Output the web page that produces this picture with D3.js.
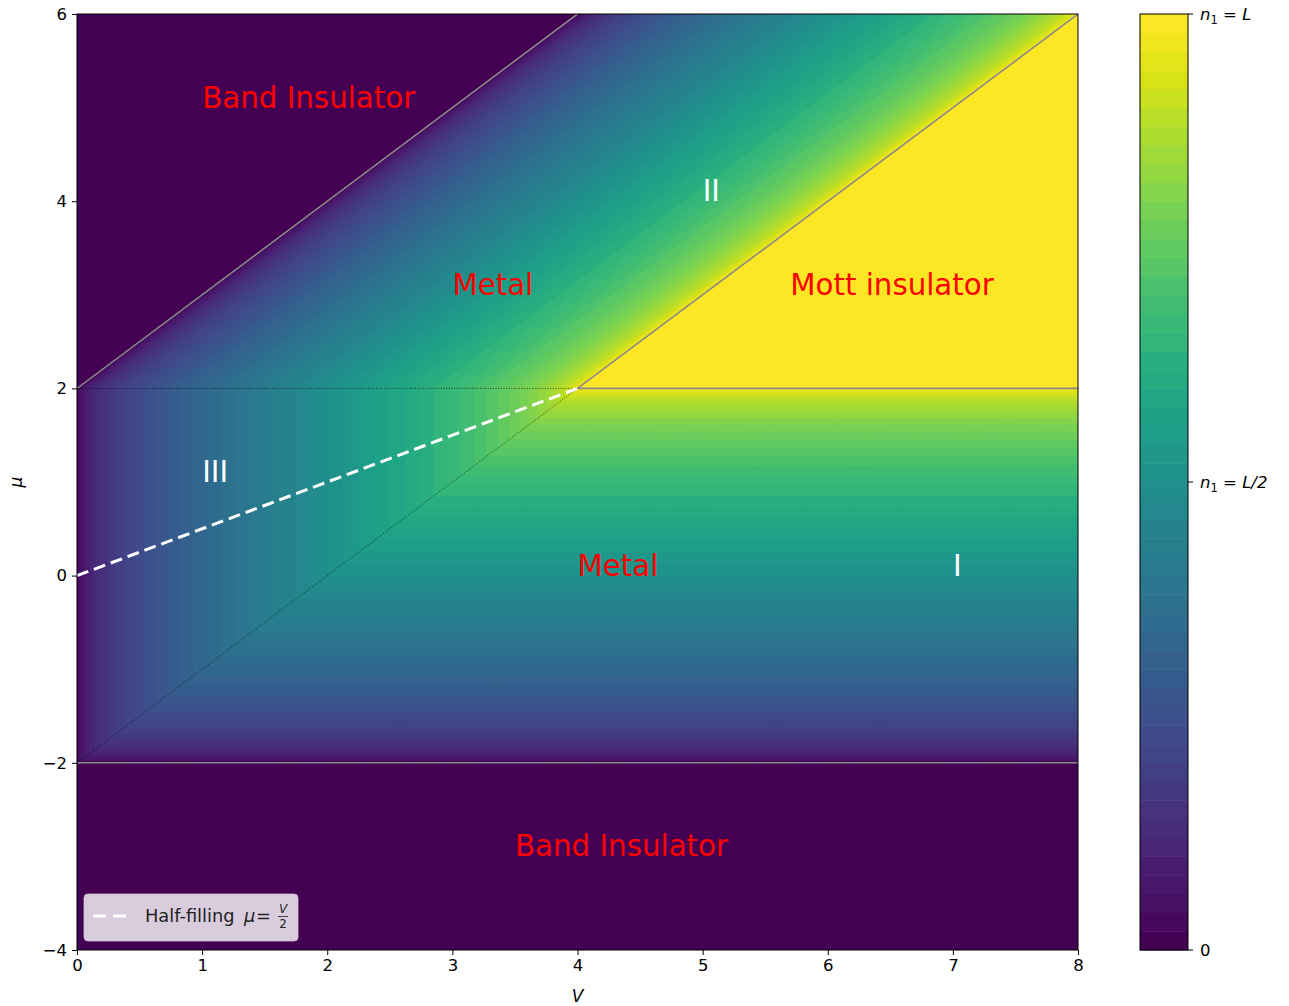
<!DOCTYPE html>
<html>
<head>
<meta charset="utf-8">
<script src="https://cdn.jsdelivr.net/npm/d3@7"></script>
<style>
  html, body { margin: 0; padding: 0; background: #ffffff; }
  svg { display: block; font-family: "DejaVu Sans", sans-serif; }
</style>
</head>
<body>
<svg id="chart" width="1289" height="1006"></svg>
<script>
// ---------- data ----------
const vDomain = [0, 8];
const muDomain = [-4, 6];
const xTicks = [0, 1, 2, 3, 4, 5, 6, 7, 8];
const yTicks = [-4, -2, 0, 2, 4, 6];
const nLevels = 50;                       // contourf levels
const cbTicks = [0, 0.5, 1];
const cbTickLabels = [["0"], ["n", "1", " = ", "L/2"], ["n", "1", " = ", "L"]];

// phase boundaries [[V0, mu0], [V1, mu1]]
const grayLines = [
  [[0, 2], [4, 6]],
  [[4, 2], [8, 6]],
  [[4, 2], [8, 2]],
  [[0, -2], [8, -2]]
];
const dottedLines = [
  [[0, 2], [4, 2]],
  [[0, -2], [4, 2]]
];
const halfFilling = [[0, 0], [4, 2]];

// region labels [text, V, mu, colour]
const regionLabels = [
  ["Band Insulator", 1, 5, "red"],
  ["Metal", 3, 3, "red"],
  ["Mott insulator", 5.7, 3, "red"],
  ["Metal", 4, 0, "red"],
  ["Band Insulator", 3.5, -3, "red"],
  ["II", 5, 4, "white"],
  ["III", 1, 1, "white"],
  ["I", 7, 0, "white"]
];

// filling of the chain n1/L as function of (V, mu) for the free-fermion band
function filling(V, mu) {
  let x;
  if (mu < -2) return 0;
  if (mu <= 2) x = Math.min(mu, V - 2);
  else x = V - mu;
  x = Math.max(-2, Math.min(2, x));
  return 1 - Math.acos(x / 2) / Math.PI;
}

// ---------- layout ----------
const svg = d3.select("#chart");
const X0 = 77, X1 = 1078, Y0 = 14, Y1 = 950;
const x = d3.scaleLinear().domain(vDomain).range([X0, X1]);
const y = d3.scaleLinear().domain(muDomain).range([Y1, Y0]);

// ---------- heatmap via d3.contours ----------
const NX = 500, NY = 468;
const gx = d3.scaleLinear().domain([0, NX]).range(vDomain);
const gy = d3.scaleLinear().domain([0, NY]).range([muDomain[1], muDomain[0]]);
const values = new Float64Array(NX * NY);
for (let j = 0; j < NY; j++) {
  const mu = gy(j + 0.5);
  for (let i = 0; i < NX; i++) {
    values[j * NX + i] = filling(gx(i + 0.5), mu);
  }
}
const thresholds = d3.range(nLevels).map(k => k / nLevels);
const color = k => d3.interpolateViridis(k / (nLevels - 1));
const contours = d3.contours().size([NX, NY]).thresholds(thresholds)(values);
const proj = d3.geoTransform({
  point: function (px, py) { this.stream.point(x(gx(px)), y(gy(py))); }
});
const path = d3.geoPath(proj);

svg.append("defs").append("clipPath").attr("id", "clip")
  .append("rect").attr("x", X0).attr("y", Y0).attr("width", X1 - X0).attr("height", Y1 - Y0);

const plot = svg.append("g").attr("clip-path", "url(#clip)");
plot.append("rect").attr("x", X0).attr("y", Y0).attr("width", X1 - X0).attr("height", Y1 - Y0)
  .attr("fill", color(0));
plot.selectAll("path.band").data(contours).join("path")
  .attr("class", "band")
  .attr("d", path)
  .attr("fill", (d, k) => color(k))
  .attr("stroke", (d, k) => color(k))
  .attr("stroke-width", 0.6);

// ---------- lines ----------
const line = d3.line().x(d => x(d[0])).y(d => y(d[1]));
plot.selectAll("path.gray").data(grayLines).join("path")
  .attr("class", "gray").attr("d", line)
  .attr("stroke", "#888888").attr("stroke-width", 1.6).attr("fill", "none");
plot.selectAll("path.dot").data(dottedLines).join("path")
  .attr("class", "dot").attr("d", line)
  .attr("stroke", "#000").attr("stroke-width", 0.7).attr("stroke-dasharray", "1,1.6").attr("fill", "none");
plot.append("path").datum(halfFilling).attr("d", line)
  .attr("stroke", "#fff").attr("stroke-width", 3).attr("stroke-dasharray", "12,6").attr("fill", "none");

// ---------- labels ----------
plot.selectAll("text.region").data(regionLabels).join("text")
  .attr("class", "region")
  .attr("x", d => x(d[1])).attr("y", d => y(d[2]))
  .attr("fill", d => d[3])
  .attr("font-size", 29.3)
  .text(d => d[0]);

// ---------- frame & axes ----------
svg.append("rect").attr("x", X0).attr("y", Y0).attr("width", X1 - X0).attr("height", Y1 - Y0)
  .attr("fill", "none").attr("stroke", "#000").attr("stroke-width", 1);

const fmt = d => (d < 0 ? "\u2212" + Math.abs(d) : String(d));
const xAxis = svg.append("g").attr("transform", `translate(0,${Y1})`)
  .call(d3.axisBottom(x).tickValues(xTicks).tickFormat(fmt).tickSize(5).tickPadding(4));
const yAxis = svg.append("g").attr("transform", `translate(${X0},0)`)
  .call(d3.axisLeft(y).tickValues(yTicks).tickFormat(fmt).tickSize(5).tickPadding(5));
[xAxis, yAxis].forEach(a => {
  a.select(".domain").remove();
  a.selectAll("text").attr("font-size", 16.5).attr("font-family", "DejaVu Sans").attr("fill", "#000");
  a.selectAll("line").attr("stroke", "#000");
});

svg.append("text").attr("x", x(4)).attr("y", 1002).attr("text-anchor", "middle")
  .attr("font-size", 17).attr("font-style", "italic").text("V");
svg.append("text").attr("transform", "translate(22,482) rotate(-90)").attr("text-anchor", "middle")
  .attr("font-size", 17).attr("font-style", "italic").text("\u03bc");

// ---------- legend ----------
const lg = svg.append("g");
lg.append("rect").attr("x", 84).attr("y", 894).attr("width", 214).attr("height", 47).attr("rx", 4)
  .attr("fill", "rgba(255,255,255,0.8)").attr("stroke", "rgba(204,204,204,0.8)");
lg.append("line").attr("x1", 93).attr("x2", 127).attr("y1", 916).attr("y2", 916)
  .attr("stroke", "#fff").attr("stroke-width", 3).attr("stroke-dasharray", "13,7");
lg.append("text").attr("x", 145).attr("y", 922).attr("font-size", 17.8).attr("fill", "#222").text("Half-filling");
lg.append("text").attr("x", 244).attr("y", 922).attr("font-size", 17.8).attr("font-style", "italic").attr("fill", "#222").text("\u03bc");
lg.append("text").attr("x", 256).attr("y", 922).attr("font-size", 17.8).attr("fill", "#222").text("=");
lg.append("text").attr("x", 283).attr("y", 913).attr("font-size", 12).attr("font-style", "italic").attr("text-anchor", "middle").attr("fill", "#222").text("V");
lg.append("line").attr("x1", 278).attr("x2", 288).attr("y1", 916.5).attr("y2", 916.5).attr("stroke", "#222").attr("stroke-width", 0.8);
lg.append("text").attr("x", 283).attr("y", 928).attr("font-size", 12).attr("text-anchor", "middle").attr("fill", "#222").text("2");

// ---------- colorbar ----------
const CX0 = 1140, CX1 = 1188;
const cb = d3.scaleLinear().domain([0, 1]).range([Y1, Y0]);
svg.append("g").selectAll("rect").data(d3.range(nLevels)).join("rect")
  .attr("x", CX0).attr("width", CX1 - CX0)
  .attr("y", k => cb((k + 1) / nLevels))
  .attr("height", k => cb(k / nLevels) - cb((k + 1) / nLevels) + 0.5)
  .attr("fill", k => color(k));
svg.append("rect").attr("x", CX0).attr("y", Y0).attr("width", CX1 - CX0).attr("height", Y1 - Y0)
  .attr("fill", "none").attr("stroke", "#000").attr("stroke-width", 1);
const cbt = svg.append("g").selectAll("g").data(cbTicks).join("g")
  .attr("transform", d => `translate(${CX1},${cb(d)})`);
cbt.append("line").attr("x2", 5).attr("stroke", "#000");
cbt.append("text").attr("x", 12).attr("dy", "0.35em").attr("font-size", 16.5).attr("fill", "#000")
  .each(function (d, i) {
    const parts = cbTickLabels[i];
    const t = d3.select(this);
    if (parts.length === 1) { t.text(parts[0]); return; }
    t.append("tspan").attr("font-style", "italic").text(parts[0]);
    t.append("tspan").attr("font-size", 11.5).attr("dy", 4).text(parts[1]);
    t.append("tspan").attr("dy", -4).text(parts[2]);
    t.append("tspan").attr("font-style", "italic").text(parts[3]);
  });
</script>
</body>
</html>
